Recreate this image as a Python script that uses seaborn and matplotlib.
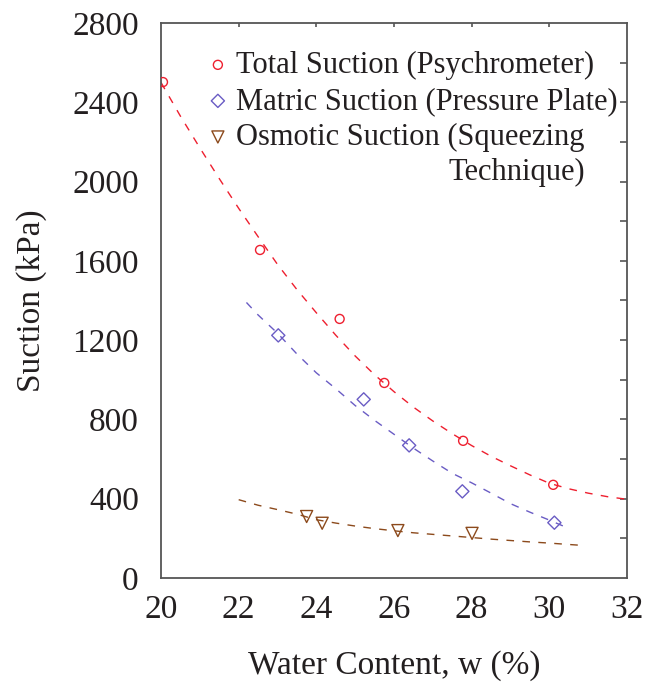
import numpy as np
import pandas as pd
import matplotlib
matplotlib.use("Agg")
import matplotlib.pyplot as plt
import seaborn as sns

# measured points
total_w = [20.05, 22.55, 24.6, 25.75, 27.78, 30.1]
total_s = [2502, 1655, 1307, 984, 692, 470]
matric_w = [23.02, 25.22, 26.39, 27.76, 30.13]
matric_s = [1224, 901, 669, 437, 279]
osmotic_w = [23.75, 24.15, 26.1, 28.01]
osmotic_s = [310, 276, 239, 225]

# fitted trend curves
total_fit_w = [20, 20.5, 21, 21.5, 22, 22.5, 23, 23.5, 24, 24.5, 25, 25.5, 26,
               26.5, 27, 27.5, 28, 28.5, 29, 29.5, 30, 30.5, 31, 31.5, 32]
total_fit_s = [2500, 2330, 2170, 2015, 1865, 1722, 1582, 1455, 1338, 1225, 1120,
               1025, 940, 862, 792, 728, 668, 614, 566, 520, 478, 450, 428, 410, 397]
matric_fit_w = [22.2, 22.5, 23, 23.5, 24, 24.5, 25, 25.5, 26, 26.5, 27, 27.5,
                28, 28.5, 29, 29.5, 30, 30.5]
matric_fit_s = [1390, 1327, 1235, 1130, 1035, 955, 870, 795, 725, 655, 590, 528,
                480, 428, 375, 332, 292, 250]
osmotic_fit_w = [22, 22.5, 23, 23.5, 24, 24.5, 25, 25.5, 26, 26.5, 27, 27.5, 28,
                 28.5, 29, 29.5, 30, 30.5, 30.8]
osmotic_fit_s = [395, 367, 345, 322, 294, 277, 262, 249, 238, 228, 220, 212, 204,
                 196, 189, 182, 176, 169, 165]

red = "#ee1f2f"
blue = "#6a5cc4"
brown = "#8c4a1c"
txt = "#231f20"

sns.set_style("white")
plt.rcParams["font.family"] = ["Liberation Serif", "DejaVu Serif"]
plt.rcParams["text.color"] = txt
plt.rcParams["axes.labelcolor"] = txt
plt.rcParams["xtick.color"] = "#555555"
plt.rcParams["ytick.color"] = "#555555"
plt.rcParams["xtick.labelcolor"] = txt
plt.rcParams["ytick.labelcolor"] = txt

fig = plt.figure(figsize=(6.54, 6.87), dpi=100)
ax = fig.add_axes([0.2462, 0.1587, 0.7125, 0.8078])

dash = (0, (5.5, 6))
sns.lineplot(x=total_fit_w, y=total_fit_s, ax=ax, color=red, lw=1,
             linestyle=dash, sort=False, estimator=None)
sns.lineplot(x=matric_fit_w, y=matric_fit_s, ax=ax, color=blue, lw=1,
             linestyle=dash, sort=False, estimator=None)
sns.lineplot(x=osmotic_fit_w, y=osmotic_fit_s, ax=ax, color=brown, lw=1,
             linestyle=dash, sort=False, estimator=None)

sns.scatterplot(x=total_w, y=total_s, ax=ax, marker="o", s=42,
                facecolors="none", edgecolor=red, linewidth=1,
                label="Total Suction (Psychrometer)", zorder=3)
sns.scatterplot(x=matric_w, y=matric_s, ax=ax, marker="D", s=45,
                facecolors="none", edgecolor=blue, linewidth=1,
                label="Matric Suction (Pressure Plate)", zorder=3)
sns.scatterplot(x=osmotic_w, y=osmotic_s, ax=ax, marker="v", s=75,
                facecolors="none", edgecolor=brown, linewidth=1,
                label="Osmotic Suction (Squeezing", zorder=3)

ax.set_xlim(20, 32)
ax.set_ylim(0, 2800)
ax.set_xticks(np.arange(20, 33, 2))
ax.set_xticks(np.arange(21, 32, 2), minor=True)
ax.set_yticks(np.arange(0, 2801, 400))
ax.set_yticks(np.arange(200, 2800, 400), minor=True)
ax.tick_params(axis="both", which="both", direction="in", labelsize=24, width=1.2)
ax.tick_params(axis="x", which="major", length=7, pad=12)
ax.tick_params(axis="x", which="minor", length=4)
ax.tick_params(axis="y", which="both", length=7, pad=16)

# short ticks on the top and right spines
top = ax.secondary_xaxis("top")
top.set_xticks(np.arange(22, 31, 2))
top.tick_params(direction="in", length=3, width=1.2, labeltop=False)
top.spines["top"].set_visible(False)
right = ax.secondary_yaxis("right")
right.set_yticks(np.arange(200, 2800, 200))
right.tick_params(direction="in", length=5, width=1.2, labelright=False)
right.spines["right"].set_visible(False)

for sp in ax.spines.values():
    sp.set_color("#555555")
    sp.set_linewidth(1.3)

ax.set_xlabel("Water Content, w (%)", fontsize=24, labelpad=18)
ax.set_ylabel("Suction (kPa)", fontsize=24, labelpad=18)

leg = ax.legend(loc="upper left", bbox_to_anchor=(0.063, 0.972), frameon=False,
                fontsize=22, handletextpad=0.1, labelspacing=0.23,
                borderaxespad=0, handlelength=1.0)

# second line of the osmotic label, right-aligned under "(Squeezing"
fig.canvas.draw()
bb = leg.get_texts()[2].get_window_extent()
inv = fig.transFigure.inverted()
x1, y0 = inv.transform((bb.x1, bb.y0))
fig.text(x1, y0 - 0.008, "Technique)", fontsize=22, ha="right", va="top")

fig.savefig("out.png", dpi=100)
